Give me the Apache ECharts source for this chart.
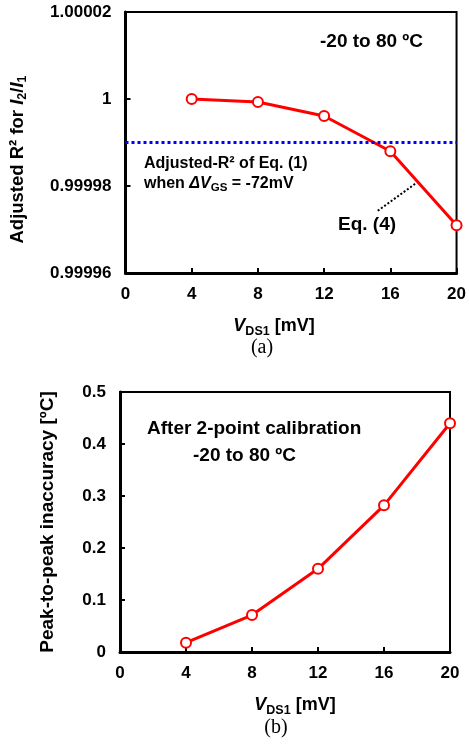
<!DOCTYPE html>
<html>
<head>
<meta charset="utf-8">
<script src="https://cdn.jsdelivr.net/npm/echarts@6/dist/echarts.min.js"></script>
<style>
  html, body { margin: 0; padding: 0; background: #fff; }
  #chart { width: 469px; height: 747px; }
</style>
</head>
<body>
<div id="chart"></div>
<script>
// ── data ──
const vds = [4, 8, 12, 16, 20];                                  // V_DS1 [mV]
const adjR2 = [1.0, 0.9999993, 0.9999961, 0.999988, 0.999971];   // (a) Eq. (4)
const refR2 = 0.99999;                                           // Eq. (1), dVGS = -72mV
const p2p = [0.018, 0.071, 0.16, 0.282, 0.44];                   // (b) peak-to-peak [ºC]
const yTicksA = [0.99996, 0.99998, 1, 1.00002];

const FONT = "'Liberation Sans', Arial, sans-serif";
const RED = "#ff0000";

function pairs(xs, ys) { return xs.map(function(x, i) { return [x, ys[i]]; }); }

// common axis look
function xAx(grid, gap, pad) {
    return {
        type: "value", gridIndex: grid, min: 0, max: 20, interval: 4,
        name: "{v|V}{s|DS1}{n| [mV]}", nameLocation: "middle", nameGap: gap,
        nameTextStyle: {
            padding: pad,
            rich: {
                v: { fontFamily: FONT, fontSize: 18, fontWeight: "bold", fontStyle: "italic", color: "#000", lineHeight: 24 },
                s: { fontFamily: FONT, fontSize: 12.5, fontWeight: "bold", color: "#000", verticalAlign: "bottom", lineHeight: 13 },
                n: { fontFamily: FONT, fontSize: 18, fontWeight: "bold", color: "#000", lineHeight: 24 },
            },
        },
        axisLine: { show: true, onZero: false, lineStyle: { color: "#000", width: 3 } },
        axisTick: { show: true, inside: true, length: 5, lineStyle: { color: "#000", width: 2 } },
        axisLabel: { fontFamily: FONT, fontSize: 17, fontWeight: "bold", color: "#000", margin: 13 },
        splitLine: { show: false },
    };
}

function yAx(grid, extra) {
    var a = {
        type: "value", gridIndex: grid, nameLocation: "middle",
        axisLine: { show: true, onZero: false, lineStyle: { color: "#000", width: 3 } },
        axisTick: { show: true, inside: true, length: 5, lineStyle: { color: "#000", width: 2 } },
        axisLabel: { fontFamily: FONT, fontSize: 17, fontWeight: "bold", color: "#000", margin: 14 },
        splitLine: { show: false },
    };
    return Object.assign(a, extra);
}

function txt(x, y, text, rich, size) {
    return {
        type: "text", x: x, y: y, silent: true,
        style: {
            text: text, rich: rich || undefined,
            fontFamily: FONT, fontSize: size || 19, fontWeight: "bold", fill: "#000",
            align: "left", verticalAlign: "middle",
        },
    };
}

var richGS = {
    b: { fontFamily: FONT, fontSize: 16, fontWeight: "bold", color: "#000", lineHeight: 20 },
    i: { fontFamily: FONT, fontSize: 16, fontWeight: "bold", fontStyle: "italic", color: "#000", lineHeight: 20 },
    s: { fontFamily: FONT, fontSize: 11.5, fontWeight: "bold", color: "#000", verticalAlign: "bottom", lineHeight: 11 },
};

var option = {
    animation: false,
    grid: [
        { left: 124, top: 12, width: 336, height: 261, show: true, borderColor: "#000", borderWidth: 2 },
        { left: 120, top: 392, width: 330, height: 260, show: true, borderColor: "#000", borderWidth: 2 },
    ],
    xAxis: [xAx(0, 41, [0, 34, 0, 0]), xAx(1, 41, [0, 0, 0, 20])],
    yAxis: [
        yAx(0, {
            min: yTicksA[0], max: yTicksA[yTicksA.length - 1], interval: 0.00002,
            axisLabel: { fontFamily: FONT, fontSize: 17, fontWeight: "bold", color: "#000", margin: 14,
                formatter: function(v) { return String(+v.toFixed(5)); } },
            name: "{n|Adjusted R² for }{i|I}{s|2}{n|/}{i|I}{s|1}", nameGap: 96,
            nameTextStyle: {
                padding: [0, 34, 0, 0],
                rich: {
                    n: { fontFamily: FONT, fontSize: 18.5, fontWeight: "bold", color: "#000", lineHeight: 24 },
                    i: { fontFamily: FONT, fontSize: 18.5, fontWeight: "bold", fontStyle: "italic", color: "#000", lineHeight: 24 },
                    s: { fontFamily: FONT, fontSize: 12.5, fontWeight: "bold", color: "#000", verticalAlign: "bottom", lineHeight: 12 },
                },
            },
        }),
        yAx(1, {
            min: 0, max: 0.5, interval: 0.1,
            name: "Peak-to-peak inaccuracy [ºC]", nameGap: 63,
            nameTextStyle: { fontFamily: FONT, fontSize: 19, fontWeight: "bold", color: "#000" },
        }),
    ],
    series: [
        {
            type: "line", xAxisIndex: 0, yAxisIndex: 0, data: pairs(vds, adjR2),
            symbol: "emptyCircle", symbolSize: 10,
            lineStyle: { color: RED, width: 3 },
            itemStyle: { color: RED, borderColor: RED, borderWidth: 3 },
            markLine: {
                silent: true, symbol: "none", precision: 10, label: { show: false },
                data: [
                    { yAxis: refR2, lineStyle: { color: "#0000ff", width: 3, type: [3, 3] } },
                    [
                        { coord: [15.24, 0.9999743], lineStyle: { color: "#000", width: 2, type: [2, 2] } },
                        { coord: [17.5, 0.9999805] },
                    ],
                ],
            },
        },
        {
            type: "line", xAxisIndex: 1, yAxisIndex: 1, data: pairs(vds, p2p),
            symbol: "emptyCircle", symbolSize: 10,
            lineStyle: { color: RED, width: 3 },
            itemStyle: { color: RED, borderColor: RED, borderWidth: 3 },
        },
    ],
    graphic: [
        txt(320, 42, "-20 to 80 ºC"),
        txt(144, 164, "Adjusted-R² of Eq. (1)", null, 16),
        txt(144, 184, "{b|when }{i|ΔV}{s|GS}{b| = -72mV}", richGS, 16),
        txt(338, 225, "Eq. (4)"),
        txt(147, 429, "After 2-point calibration"),
        txt(193, 456, "-20 to 80 ºC"),
        {
            type: "text", x: 262, y: 348, silent: true,
            style: { text: "(a)", fontFamily: "'Liberation Serif', 'Times New Roman', serif", fontSize: 20,
                fill: "#000", align: "center", verticalAlign: "middle" },
        },
        {
            type: "text", x: 276, y: 728, silent: true,
            style: { text: "(b)", fontFamily: "'Liberation Serif', 'Times New Roman', serif", fontSize: 20,
                fill: "#000", align: "center", verticalAlign: "middle" },
        },
    ],
};

var chart = echarts.init(document.getElementById("chart"));
chart.setOption(option);
</script>
</body>
</html>
